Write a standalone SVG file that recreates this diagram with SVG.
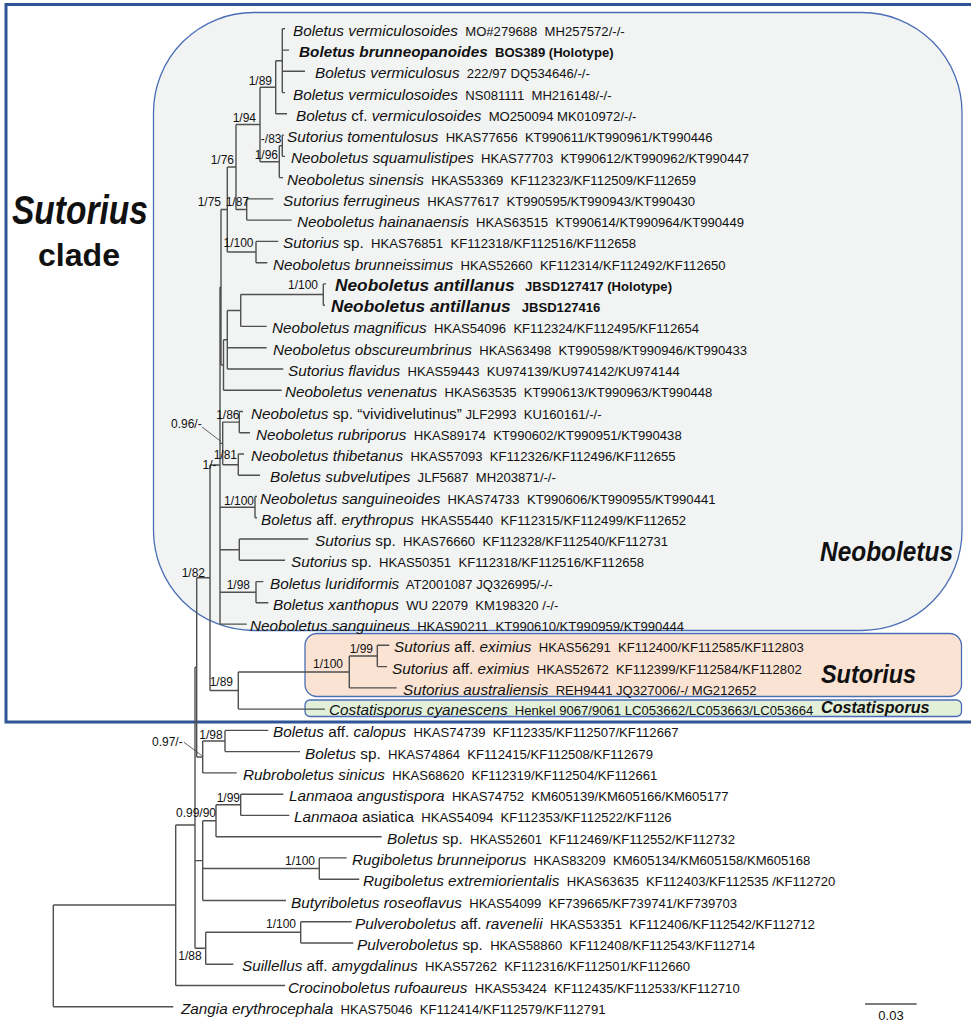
<svg xmlns="http://www.w3.org/2000/svg" width="971" height="1023" viewBox="0 0 971 1023">
<style>
text{font-family:"Liberation Sans",Arial,sans-serif;fill:#111;white-space:pre}
.l{font-size:15.3px}
.i{font-style:italic}
.a{font-size:13.1px;font-style:normal}
.b{font-weight:bold}
.s{font-size:12px;text-anchor:end}
.br{stroke:#505050;stroke-width:1.4;fill:none}
.ld{stroke:#505050;stroke-width:0.9;fill:none}
.box{stroke:#4a6eb5;stroke-width:1.3}
.grp{font-weight:bold;font-style:italic}
</style>
<rect x="0" y="0" width="971" height="1023" fill="#fff"/>
<g id="clade-boxes">
<rect id="sutorius-clade-frame" x="6" y="4.5" width="975" height="717.5" fill="none" stroke="#2f5496" stroke-width="3"/>
<rect id="neoboletus-box" class="box" x="153.5" y="12.5" width="808.5" height="618" rx="100" ry="100" fill="#f2f4f4"/>
<rect id="sutorius-box" class="box" x="305" y="633.5" width="656.5" height="63" rx="12" ry="12" fill="#fbe3d4"/>
<rect id="costatisporus-box" class="box" x="305" y="700" width="656.5" height="16.5" rx="5" ry="5" fill="#e2efd9"/>
</g>
<g id="connectors">
<path class="br" d="M282.3 28.8V92.6M282.3 28.8H285M282.3 50.1H289M282.3 71.3H305M282.3 92.6H285
M275.7 60.7V113.8M275.7 60.7H282.3M275.7 113.8H287
M282.3 135.1V156.4M282.3 135.1H284M282.3 156.4H285
M279.3 145.75V177.6M279.3 145.75H282.3M279.3 177.6H283
M260 87.25V161.7M260 87.25H275.7M260 161.7H279.3
M246.7 198.9V220.1M246.7 198.9H273.3M246.7 220.1H291.7
M236 124.5V209.5M236 124.5H260M236 209.5H246.7
M256 241.4V262.7M256 241.4H278.3M256 262.7H267.3
M227.3 167V252M227.3 167H236M227.3 252H256
M323.3 283.9V305.2M323.3 283.9H326M323.3 305.2H325
M240.7 294.5V326.4M240.7 294.5H323.3M240.7 326.4H266.7
M227.3 310.5V369M227.3 310.5H240.7M227.3 347.7H266.7M227.3 369H283.3
M223.5 339.7V390.2M223.5 339.7H227.3M223.5 390.2H281.7
M221 209.5V365M221 209.5H227.3M221 365H223.5
M239.3 411.5V432.7M239.3 411.5H243M239.3 432.7H250
M238.3 454V475.3M238.3 454H244M238.3 475.3H260
M222.7 422.1V464.7M222.7 422.1H239.3M222.7 464.7H238.3
M255 496.5V517.8M255 496.5H257M255 517.8H257
M239.3 539V560.3M239.3 539H308.3M239.3 560.3H285
M256 581.6V602.8M256 581.6H263.3M256 602.8H268.3
M220 287V624.1M220 287H221M220 443.4H222.7M220 507.2H255M220 549.7H239.3M220 592.2H256M220 624.1H246.7
M377.3 645.3V666.6M377.3 645.3H389.3M377.3 666.6H387
M349.3 656V687.9M349.3 656H377.3M349.3 687.9H396.7
M238.3 672V709.1M238.3 672H349.3M238.3 709.1H325
M210 465V690.5M210 465H220M210 690.5H238.3
M225 730.4V751.6M225 730.4H268.3M225 751.6H300
M202.7 741V772.9M202.7 741H225M202.7 772.9H236.7
M196.7 577.7V757M196.7 577.7H210M196.7 757H202.7
M240.7 794.2V815.4M240.7 794.2H283.3M240.7 815.4H289.3
M216 804.8V836.7M216 804.8H240.7M216 836.7H381.7
M319.3 857.9V879.2M319.3 857.9H346.7M319.3 879.2H359.3
M202.7 820.7V900.5M202.7 820.7H216M202.7 868.5H319.3M202.7 900.5H286
M300.7 921.7V943M300.7 921.7H351.7M300.7 943H353.3
M205.7 932.3V964.2M205.7 932.3H300.7M205.7 964.2H233.3
M195 667.3V948.3M195 667.3H196.7M195 860.6H202.7M195 948.3H205.7
M175.7 825V985.5M175.7 825H195M175.7 985.5H285
M53.3 905V1006.8M53.3 905H175.7M53.3 1006.8H173.3"/>
<path class="ld" d="M202 427L221 441.5M184 742.3L201.7 755.5"/>
<path class="br" d="M865 1004H916.7"/>
</g>
<g id="support-values">
<text class="s" x="272" y="84.5">1/89</text>
<text class="s" x="256" y="121.5">1/94</text>
<text class="s" x="234" y="164">1/76</text>
<text class="s" x="281.5" y="143">-/83</text>
<text class="s" x="278" y="159">1/96</text>
<text class="s" x="221" y="206">1/75</text>
<text class="s" x="249" y="206">1/87</text>
<text class="s" x="253.5" y="247">1/100</text>
<text class="s" x="318" y="289">1/100</text>
<text class="s" x="239.5" y="418.5">1/86</text>
<text class="s" x="201.7" y="427.5">0.96/-</text>
<text class="s" x="237" y="458.5">1/81</text>
<text class="s" x="216.5" y="468.5">1/-</text>
<text class="s" x="254" y="505">1/100</text>
<text class="s" x="250" y="588.5">1/98</text>
<text class="s" x="205" y="576.5">1/82</text>
<text class="s" x="233" y="686">1/89</text>
<text class="s" x="343" y="668">1/100</text>
<text class="s" x="373" y="652.5">1/99</text>
<text class="s" x="222.7" y="738.5">1/98</text>
<text class="s" x="182.7" y="745.5">0.97/-</text>
<text class="s" x="240" y="801.5">1/99</text>
<text class="s" x="216" y="817">0.99/90</text>
<text class="s" x="315" y="865">1/100</text>
<text class="s" x="296" y="927.5">1/100</text>
<text class="s" x="201.7" y="960">1/88</text>
</g>
<g id="leaves">
<g id="leaf-01"><text xml:space="preserve" class="l" x="293" y="35.8"><tspan class="i">Boletus vermiculosoides</tspan><tspan class="a">  MO#279688  MH257572/-/-</tspan></text></g>
<g id="leaf-02"><text xml:space="preserve" class="l b" x="299" y="57.1"><tspan class="i">Boletus brunneopanoides</tspan><tspan class="a">  BOS389 (Holotype)</tspan></text></g>
<g id="leaf-03"><text xml:space="preserve" class="l" x="315" y="78.3"><tspan class="i">Boletus vermiculosus</tspan><tspan class="a">  222/97 DQ534646/-/-</tspan></text></g>
<g id="leaf-04"><text xml:space="preserve" class="l" x="293" y="99.6"><tspan class="i">Boletus vermiculosoides</tspan><tspan class="a">  NS081111  MH216148/-/-</tspan></text></g>
<g id="leaf-05"><text xml:space="preserve" class="l" x="296" y="120.8"><tspan class="i">Boletus</tspan> cf. <tspan class="i">vermiculosoides</tspan><tspan class="a">  MO250094 MK010972/-/-</tspan></text></g>
<g id="leaf-06"><text xml:space="preserve" class="l" x="287" y="142.1"><tspan class="i">Sutorius tomentulosus</tspan><tspan class="a">  HKAS77656  KT990611/KT990961/KT990446</tspan></text></g>
<g id="leaf-07"><text xml:space="preserve" class="l" x="291" y="163.4"><tspan class="i">Neoboletus squamulistipes</tspan><tspan class="a">  HKAS77703  KT990612/KT990962/KT990447</tspan></text></g>
<g id="leaf-08"><text xml:space="preserve" class="l" x="287" y="184.6"><tspan class="i">Neoboletus sinensis</tspan><tspan class="a">  HKAS53369  KF112323/KF112509/KF112659</tspan></text></g>
<g id="leaf-09"><text xml:space="preserve" class="l" x="283" y="205.9"><tspan class="i">Sutorius ferrugineus</tspan><tspan class="a">  HKAS77617  KT990595/KT990943/KT990430</tspan></text></g>
<g id="leaf-10"><text xml:space="preserve" class="l" x="297" y="227.1"><tspan class="i">Neoboletus hainanaensis</tspan><tspan class="a">  HKAS63515  KT990614/KT990964/KT990449</tspan></text></g>
<g id="leaf-11"><text xml:space="preserve" class="l" x="283" y="248.4"><tspan class="i">Sutorius</tspan> sp.<tspan class="a">  HKAS76851  KF112318/KF112516/KF112658</tspan></text></g>
<g id="leaf-12"><text xml:space="preserve" class="l" x="273" y="269.7"><tspan class="i">Neoboletus brunneissimus</tspan><tspan class="a">  HKAS52660  KF112314/KF112492/KF112650</tspan></text></g>
<g id="leaf-13"><text class="b i" style="font-size:17.3px" x="335" y="290.9">Neoboletus antillanus</text><text class="b a" x="525" y="290.9">JBSD127417 (Holotype)</text></g>
<g id="leaf-14"><text class="b i" style="font-size:17.3px" x="331" y="312.2">Neoboletus antillanus</text><text class="b a" x="521.7" y="312.2">JBSD127416</text></g>
<g id="leaf-15"><text xml:space="preserve" class="l" x="272" y="333.4"><tspan class="i">Neoboletus magnificus</tspan><tspan class="a">  HKAS54096  KF112324/KF112495/KF112654</tspan></text></g>
<g id="leaf-16"><text xml:space="preserve" class="l" x="273" y="354.7"><tspan class="i">Neoboletus obscureumbrinus</tspan><tspan class="a">  HKAS63498  KT990598/KT990946/KT990433</tspan></text></g>
<g id="leaf-17"><text xml:space="preserve" class="l" x="288" y="376"><tspan class="i">Sutorius flavidus</tspan><tspan class="a">  HKAS59443  KU974139/KU974142/KU974144</tspan></text></g>
<g id="leaf-18"><text xml:space="preserve" class="l" x="285" y="397.2"><tspan class="i">Neoboletus venenatus</tspan><tspan class="a">  HKAS63535  KT990613/KT990963/KT990448</tspan></text></g>
<g id="leaf-19"><text xml:space="preserve" class="l" x="251" y="418.5"><tspan class="i">Neoboletus</tspan> sp. “vividivelutinus”<tspan class="a"> JLF2993  KU160161/-/-</tspan></text></g>
<g id="leaf-20"><text xml:space="preserve" class="l" x="256" y="439.7"><tspan class="i">Neoboletus rubriporus</tspan><tspan class="a">  HKAS89174  KT990602/KT990951/KT990438</tspan></text></g>
<g id="leaf-21"><text xml:space="preserve" class="l" x="251" y="461"><tspan class="i">Neoboletus thibetanus</tspan><tspan class="a">  HKAS57093  KF112326/KF112496/KF112655</tspan></text></g>
<g id="leaf-22"><text xml:space="preserve" class="l" x="270" y="482.3"><tspan class="i">Boletus subvelutipes</tspan><tspan class="a">  JLF5687  MH203871/-/-</tspan></text></g>
<g id="leaf-23"><text xml:space="preserve" class="l" x="260" y="503.5"><tspan class="i">Neoboletus sanguineoides</tspan><tspan class="a">  HKAS74733  KT990606/KT990955/KT990441</tspan></text></g>
<g id="leaf-24"><text xml:space="preserve" class="l" x="261" y="524.8"><tspan class="i">Boletus</tspan> aff. <tspan class="i">erythropus</tspan><tspan class="a">  HKAS55440  KF112315/KF112499/KF112652</tspan></text></g>
<g id="leaf-25"><text xml:space="preserve" class="l" x="315" y="546"><tspan class="i">Sutorius</tspan> sp.<tspan class="a">  HKAS76660  KF112328/KF112540/KF112731</tspan></text></g>
<g id="leaf-26"><text xml:space="preserve" class="l" x="291" y="567.3"><tspan class="i">Sutorius</tspan> sp.<tspan class="a">  HKAS50351  KF112318/KF112516/KF112658</tspan></text></g>
<g id="leaf-27"><text xml:space="preserve" class="l" x="270" y="588.6"><tspan class="i">Boletus luridiformis</tspan><tspan class="a">  AT2001087 JQ326995/-/-</tspan></text></g>
<g id="leaf-28"><text xml:space="preserve" class="l" x="273" y="609.8"><tspan class="i">Boletus xanthopus</tspan><tspan class="a">  WU 22079  KM198320 /-/-</tspan></text></g>
<g id="leaf-29"><text xml:space="preserve" class="l" x="250" y="631.1"><tspan class="i">Neoboletus sanguineus</tspan><tspan class="a">  HKAS90211  KT990610/KT990959/KT990444</tspan></text></g>
<g id="leaf-30"><text xml:space="preserve" class="l" x="394" y="652.3"><tspan class="i">Sutorius</tspan> aff. <tspan class="i">eximius</tspan><tspan class="a">  HKAS56291  KF112400/KF112585/KF112803</tspan></text></g>
<g id="leaf-31"><text xml:space="preserve" class="l" x="392" y="673.6"><tspan class="i">Sutorius</tspan> aff. <tspan class="i">eximius</tspan><tspan class="a">  HKAS52672  KF112399/KF112584/KF112802</tspan></text></g>
<g id="leaf-32"><text xml:space="preserve" class="l" x="403" y="694.9"><tspan class="i">Sutorius australiensis</tspan><tspan class="a">  REH9441 JQ327006/-/ MG212652</tspan></text></g>
<g id="leaf-33"><text xml:space="preserve" class="l" x="329" y="714.5"><tspan class="i">Costatisporus cyanescens</tspan><tspan class="a">  Henkel 9067/9061 LC053662/LC053663/LC053664</tspan></text></g>
<g id="leaf-34"><text xml:space="preserve" class="l" x="273" y="737.4"><tspan class="i">Boletus</tspan> aff. <tspan class="i">calopus</tspan><tspan class="a">  HKAS74739  KF112335/KF112507/KF112667</tspan></text></g>
<g id="leaf-35"><text xml:space="preserve" class="l" x="305" y="758.6"><tspan class="i">Boletus</tspan> sp.<tspan class="a">  HKAS74864  KF112415/KF112508/KF112679</tspan></text></g>
<g id="leaf-36"><text xml:space="preserve" class="l" x="243" y="779.9"><tspan class="i">Rubroboletus sinicus</tspan><tspan class="a">  HKAS68620  KF112319/KF112504/KF112661</tspan></text></g>
<g id="leaf-37"><text xml:space="preserve" class="l" x="289" y="801.2"><tspan class="i">Lanmaoa angustispora</tspan><tspan class="a">  HKAS74752  KM605139/KM605166/KM605177</tspan></text></g>
<g id="leaf-38"><text xml:space="preserve" class="l" x="294" y="822.4"><tspan class="i">Lanmaoa</tspan> asiatica<tspan class="a">  HKAS54094  KF112353/KF112522/KF1126</tspan></text></g>
<g id="leaf-39"><text xml:space="preserve" class="l" x="387" y="843.7"><tspan class="i">Boletus</tspan> sp.<tspan class="a">  HKAS52601  KF112469/KF112552/KF112732</tspan></text></g>
<g id="leaf-40"><text xml:space="preserve" class="l" x="352" y="864.9"><tspan class="i">Rugiboletus brunneiporus</tspan><tspan class="a">  HKAS83209  KM605134/KM605158/KM605168</tspan></text></g>
<g id="leaf-41"><text xml:space="preserve" class="l" x="363" y="886.2"><tspan class="i">Rugiboletus extremiorientalis</tspan><tspan class="a">  HKAS63635  KF112403/KF112535 /KF112720</tspan></text></g>
<g id="leaf-42"><text xml:space="preserve" class="l" x="291" y="907.5"><tspan class="i">Butyriboletus roseoflavus</tspan><tspan class="a">  HKAS54099  KF739665/KF739741/KF739703</tspan></text></g>
<g id="leaf-43"><text xml:space="preserve" class="l" x="355" y="928.7"><tspan class="i">Pulveroboletus</tspan> aff. <tspan class="i">ravenelii</tspan><tspan class="a">  HKAS53351  KF112406/KF112542/KF112712</tspan></text></g>
<g id="leaf-44"><text xml:space="preserve" class="l" x="357" y="950"><tspan class="i">Pulveroboletus</tspan> sp.<tspan class="a">  HKAS58860  KF112408/KF112543/KF112714</tspan></text></g>
<g id="leaf-45"><text xml:space="preserve" class="l" x="242" y="971.2"><tspan class="i">Suillellus</tspan> aff. <tspan class="i">amygdalinus</tspan><tspan class="a">  HKAS57262  KF112316/KF112501/KF112660</tspan></text></g>
<g id="leaf-46"><text xml:space="preserve" class="l" x="288" y="992.5"><tspan class="i">Crocinoboletus rufoaureus</tspan><tspan class="a">  HKAS53424  KF112435/KF112533/KF112710</tspan></text></g>
<g id="leaf-47"><text xml:space="preserve" class="l" x="181" y="1013.8"><tspan class="i">Zangia erythrocephala</tspan><tspan class="a">  HKAS75046  KF112414/KF112579/KF112791</tspan></text></g>
</g>
<g id="clade-labels">
<text class="grp" x="12" y="224" style="font-size:40px" textLength="136" lengthAdjust="spacingAndGlyphs">Sutorius</text>
<text class="b" x="38" y="266" style="font-size:32px" textLength="82" lengthAdjust="spacingAndGlyphs">clade</text>
<text class="grp" x="820" y="561" style="font-size:28px" textLength="133" lengthAdjust="spacingAndGlyphs">Neoboletus</text>
<text class="grp" x="821" y="683" style="font-size:26px" textLength="95" lengthAdjust="spacingAndGlyphs">Sutorius</text>
<text class="grp" x="821" y="712.5" style="font-size:16.5px" textLength="108.5" lengthAdjust="spacingAndGlyphs">Costatisporus</text>
</g>
<g id="scale-bar"><text x="891" y="1020" style="font-size:13px" text-anchor="middle">0.03</text></g>
</svg>
